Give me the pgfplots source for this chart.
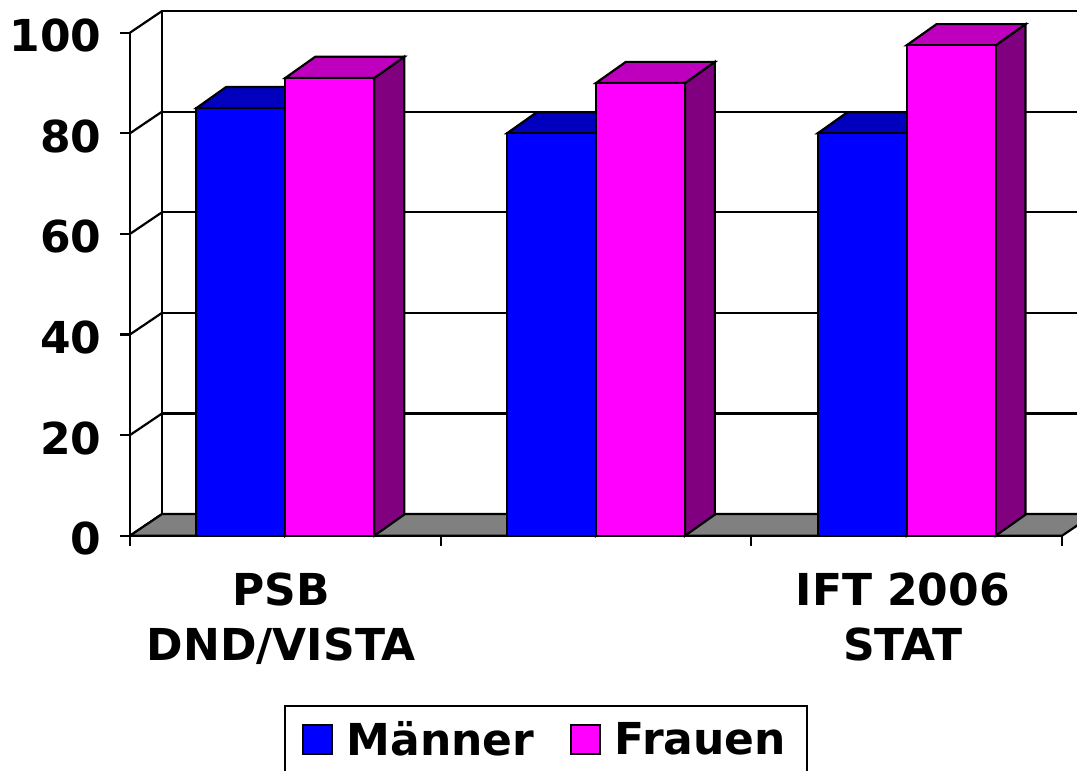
\documentclass[border=0pt]{standalone}
\usepackage{fontspec}
\setmainfont{DejaVu Sans}
\usepackage{pgfplots}
\pgfplotsset{compat=1.18}

\definecolor{mblue}{RGB}{0,0,255}
\definecolor{mbluetop}{RGB}{0,0,190}
\definecolor{mblueside}{RGB}{0,0,128}
\definecolor{fpink}{RGB}{255,0,255}
\definecolor{fpinktop}{RGB}{190,0,190}
\definecolor{fpinkside}{RGB}{128,0,128}
\definecolor{floorgray}{RGB}{128,128,128}

\newcommand{\chartfont}{\fontsize{22}{27.5}\selectfont\bfseries}
\tikzset{wall/.style={line width=1.1pt}}

\begin{document}
\begin{tikzpicture}
\begin{axis}[
    scale only axis,
    width=473.5pt, height=267.85pt,
    xmin=0, xmax=3.048, ymin=0, ymax=106.5,
    clip=false,
    axis line style={draw=none},
    tick style={draw=none},
    ytick={0,20,...,100},
    xtick={0.5,1.5,2.5},
    xticklabels={{PSB\\DND/VISTA},{},{IFT 2006\\STAT}},
    /pgf/number format/assume math mode=true,
    every tick label/.append style={font=\chartfont},
    yticklabel style={inner sep=0pt, xshift=-14pt, yshift=-1.5pt},
    xticklabel style={align=center, inner sep=0pt, yshift=-18.5pt, xshift=-2pt},
    legend style={at={(0.1626,-0.3153)}, anchor=north west, draw=black,
        line width=1.1pt, font=\chartfont, legend columns=2,
        inner xsep=8.5pt, inner ysep=6pt,
        /tikz/every odd column/.append style={column sep=5pt},
        /tikz/every even column/.append style={column sep=16pt}},
    every axis plot/.append style={line width=1.1pt},
]
% back wall and side wall
\draw[wall] (0.103,4.3) -- (0.103,104.3) -- (3.3,104.3);
\pgfplotsinvokeforeach{20,40,60,80}{
  \draw[wall] (0.103,#1+4.3) -- (3.3,#1+4.3);
}
\pgfplotsinvokeforeach{0,20,40,60,80,100}{
  \draw[wall] (0,#1) -- (0.103,#1+4.3);
  \draw[wall] (0,#1) -- ++(-5pt,0);
}
\draw[wall] (0,0) -- (0,100);
% floor
\draw[wall, fill=floorgray] (0,0) -- (3,0) -- (3.103,4.3) -- (0.103,4.3) -- cycle;
\pgfplotsinvokeforeach{0,1,2,3}{
  \draw[wall] (#1,0) -- ++(0,-5pt);
}

% Maenner: sides, tops, fronts
\addplot[draw=black, fill=mblueside, forget plot] coordinates {(0.5,0) (0.5,85) (0.596,89.2) (0.596,4.2)} -- cycle;
\addplot[draw=black, fill=mbluetop, forget plot] coordinates {(0.2135,85) (0.5,85) (0.596,89.2) (0.3095,89.2)} -- cycle;
\addplot[draw=black, fill=mblueside, forget plot] coordinates {(1.5,0) (1.5,80) (1.596,84.2) (1.596,4.2)} -- cycle;
\addplot[draw=black, fill=mbluetop, forget plot] coordinates {(1.2135,80) (1.5,80) (1.596,84.2) (1.3095,84.2)} -- cycle;
\addplot[draw=black, fill=mblueside, forget plot] coordinates {(2.5,0) (2.5,80) (2.596,84.2) (2.596,4.2)} -- cycle;
\addplot[draw=black, fill=mbluetop, forget plot] coordinates {(2.2135,80) (2.5,80) (2.596,84.2) (2.3095,84.2)} -- cycle;
\addplot[ybar, bar width=0.2865, bar shift=-0.14325, draw=black, fill=mblue,
    legend image code/.code={\draw[draw=black, fill=mblue, line width=0.8pt] (0pt,-7pt) rectangle (14.5pt,7.5pt);}]
    coordinates {(0.5,85) (1.5,80) (2.5,80)};

% Frauen: sides, tops, fronts
\addplot[draw=black, fill=fpinkside, forget plot] coordinates {(0.7865,0) (0.7865,91) (0.8825,95.2) (0.8825,4.2)} -- cycle;
\addplot[draw=black, fill=fpinktop, forget plot] coordinates {(0.5,91) (0.7865,91) (0.8825,95.2) (0.596,95.2)} -- cycle;
\addplot[draw=black, fill=fpinkside, forget plot] coordinates {(1.7865,0) (1.7865,90) (1.8825,94.2) (1.8825,4.2)} -- cycle;
\addplot[draw=black, fill=fpinktop, forget plot] coordinates {(1.5,90) (1.7865,90) (1.8825,94.2) (1.596,94.2)} -- cycle;
\addplot[draw=black, fill=fpinkside, forget plot] coordinates {(2.7865,0) (2.7865,97.5) (2.8825,101.7) (2.8825,4.2)} -- cycle;
\addplot[draw=black, fill=fpinktop, forget plot] coordinates {(2.5,97.5) (2.7865,97.5) (2.8825,101.7) (2.596,101.7)} -- cycle;
\addplot[ybar, bar width=0.2865, bar shift=0.14325, draw=black, fill=fpink,
    legend image code/.code={\draw[draw=black, fill=fpink, line width=0.8pt] (0pt,-7pt) rectangle (14.5pt,7.5pt);}]
    coordinates {(0.5,91) (1.5,90) (2.5,97.5)};

\legend{Männer, Frauen}
\coordinate (TL) at (rel axis cs:0,1);
\coordinate (BR) at (rel axis cs:1,0);
\end{axis}
\pgfresetboundingbox
\useasboundingbox ([xshift=-65pt]TL) rectangle ([yshift=-117.5pt]BR);
\end{tikzpicture}
\end{document}
